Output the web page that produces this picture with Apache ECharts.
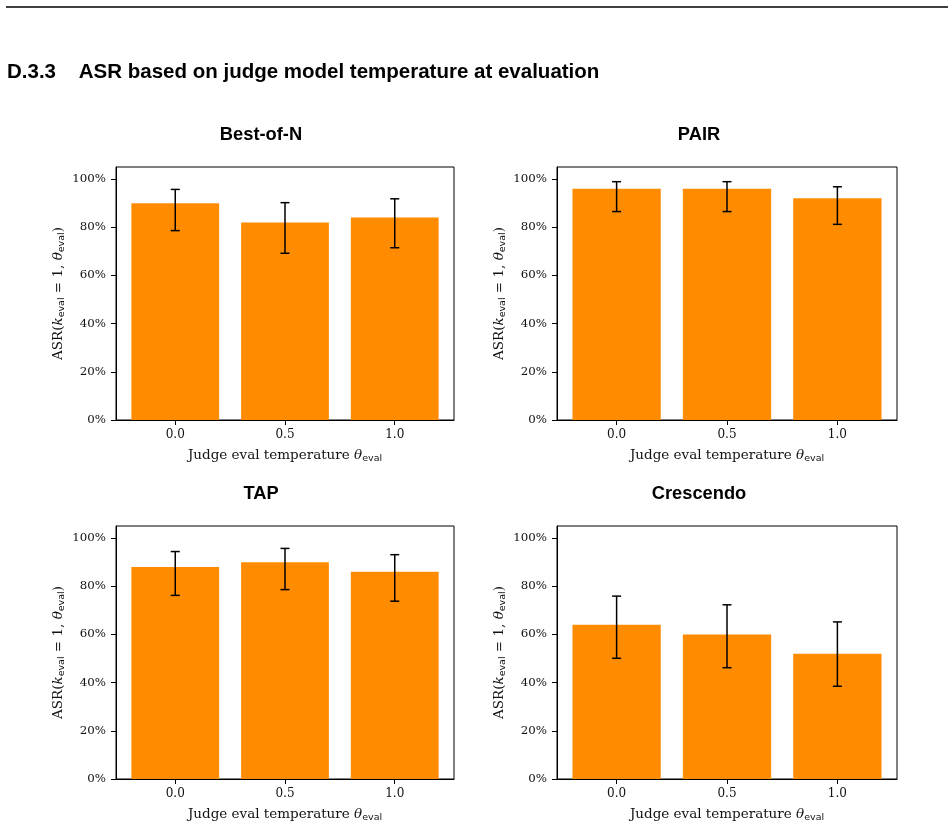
<!DOCTYPE html>
<html>
<head>
<meta charset="utf-8">
<script src="https://cdn.jsdelivr.net/npm/echarts@6/dist/echarts.min.js"></script>
<style>
  html, body { margin: 0; padding: 0; background: #fff; }
  #chart { width: 948px; height: 827px; }
</style>
</head>
<body>
<div id="chart"></div>
<script>
  // 数据
  const temps = [0.0, 0.5, 1.0]
  const xTicks = [0.0, 0.5, 1.0]
  const yTicks = [0, 20, 40, 60, 80, 100]
  const methods = ['Best-of-N', 'PAIR', 'TAP', 'Crescendo']

  const bestOfN = [90, 82, 84]
  const bestOfNLow = [78.6, 69.2, 71.5]
  const bestOfNHigh = [95.7, 90.2, 91.8]

  const pair = [96, 96, 92]
  const pairLow = [86.5, 86.5, 81.2]
  const pairHigh = [98.9, 98.9, 96.8]

  const tap = [88, 90, 86]
  const tapLow = [76.2, 78.6, 73.8]
  const tapHigh = [94.4, 95.7, 93.1]

  const crescendo = [64, 60, 52]
  const crescendoLow = [50.1, 46.2, 38.5]
  const crescendoHigh = [75.9, 72.3, 65.2]

  const panels = [
    { name: methods[0], vals: bestOfN, low: bestOfNLow, high: bestOfNHigh },
    { name: methods[1], vals: pair, low: pairLow, high: pairHigh },
    { name: methods[2], vals: tap, low: tapLow, high: tapHigh },
    { name: methods[3], vals: crescendo, low: crescendoLow, high: crescendoHigh }
  ]

  // 布局
  const grids = [
    { left: 116, top: 167, width: 338, height: 253 },
    { left: 557, top: 167, width: 340, height: 253 },
    { left: 116, top: 526, width: 338, height: 253 },
    { left: 557, top: 526, width: 340, height: 253 }
  ]
  const titleCenters = [[261, 126], [699, 126], [261, 485], [699, 485]]

  const BAR_HALF = 0.2
  const serif = 'DejaVu Serif'
  const textColor = '#111'

  // 下标用富文本
  const subRich = {
    n: { fontFamily: serif, fontSize: 13.5, color: textColor, lineHeight: 18 },
    i: { fontFamily: serif, fontStyle: 'italic', fontSize: 13.5, color: textColor, lineHeight: 18 },
    s: { fontFamily: 'DejaVu Sans', fontSize: 9.5, color: textColor, lineHeight: 9.5, verticalAlign: 'bottom' }
  }

  let chart = echarts.init(document.getElementById('chart'))

  const option = {
    backgroundColor: '#fff',
    animation: false,
    title: [
      {
        text: 'D.3.3    ASR based on judge model temperature at evaluation',
        left: 7, top: 62, padding: 0,
        textStyle: { fontFamily: 'Liberation Sans', fontWeight: 'bold', fontSize: 20.5, color: '#000' }
      }
    ].concat(panels.map((p, i) => ({
      text: p.name,
      left: titleCenters[i][0], top: titleCenters[i][1], textAlign: 'center', padding: 0,
      textStyle: { fontFamily: 'Liberation Sans', fontWeight: 'bold', fontSize: 18.3, color: '#000' }
    }))),
    graphic: [
      { type: 'line', shape: { x1: 6, y1: 7, x2: 948, y2: 7 }, style: { stroke: '#000', lineWidth: 1.5 } }
    ],
    grid: grids.map(g => Object.assign({ show: true, borderColor: '#000', borderWidth: 1, backgroundColor: 'transparent' }, g)),
    xAxis: grids.map((g, i) => ({
      type: 'value',
      gridIndex: i,
      min: -0.27,
      max: 1.27,
      name: '{n|Judge eval temperature }{i|θ}{s|eval}',
      nameLocation: 'middle',
      nameGap: 26,
      nameTextStyle: { rich: subRich },
      axisLine: { show: true, onZero: false, lineStyle: { color: '#000', width: 1 } },
      axisTick: { show: true, length: 5, customValues: xTicks, lineStyle: { color: '#000' } },
      axisLabel: {
        customValues: xTicks, margin: 9, fontFamily: serif, fontSize: 12, color: textColor,
        formatter: v => v.toFixed(1)
      },
      splitLine: { show: false }
    })),
    yAxis: grids.map((g, i) => ({
      type: 'value',
      gridIndex: i,
      min: 0,
      max: 105,
      name: '{n|ASR(}{i|k}{s|eval}{n| = 1, }{i|θ}{s|eval}{n|)}',
      nameLocation: 'middle',
      nameRotate: 90,
      nameGap: 49,
      nameTextStyle: { rich: subRich },
      axisLine: { show: true, onZero: false, lineStyle: { color: '#000', width: 1 } },
      axisTick: { show: true, length: 5, customValues: yTicks, lineStyle: { color: '#000' } },
      axisLabel: {
        customValues: yTicks, margin: 10, fontFamily: serif, fontSize: 11.8, color: textColor,
        formatter: v => v + '%'
      },
      splitLine: { show: false }
    })),
    series: []
  }

  panels.forEach((p, i) => {
    const data = temps.map((t, k) => [t, p.vals[k], p.low[k], p.high[k]])
    // 柱子
    option.series.push({
      type: 'custom',
      xAxisIndex: i,
      yAxisIndex: i,
      data: data,
      renderItem: (params, api) => {
        const x = api.value(0)
        const y = api.value(1)
        const p0 = api.coord([x - BAR_HALF, y])
        const p1 = api.coord([x + BAR_HALF, 0])
        return {
          type: 'rect',
          shape: { x: p0[0], y: p0[1], width: p1[0] - p0[0], height: p1[1] - p0[1] },
          style: { fill: '#FF8C00' }
        }
      }
    })
    // 误差线
    option.series.push({
      type: 'custom',
      xAxisIndex: i,
      yAxisIndex: i,
      data: data,
      z: 5,
      renderItem: (params, api) => {
        const x = api.value(0)
        const lo = api.coord([x, api.value(2)])
        const hi = api.coord([x, api.value(3)])
        const cap = 4.5
        const st = { stroke: '#000', lineWidth: 1.5 }
        return {
          type: 'group',
          children: [
            { type: 'line', shape: { x1: lo[0], y1: lo[1], x2: hi[0], y2: hi[1] }, style: st },
            { type: 'line', shape: { x1: hi[0] - cap, y1: hi[1], x2: hi[0] + cap, y2: hi[1] }, style: st },
            { type: 'line', shape: { x1: lo[0] - cap, y1: lo[1], x2: lo[0] + cap, y2: lo[1] }, style: st }
          ]
        }
      }
    })
  })

  chart.setOption(option)
</script>
</body>
</html>
